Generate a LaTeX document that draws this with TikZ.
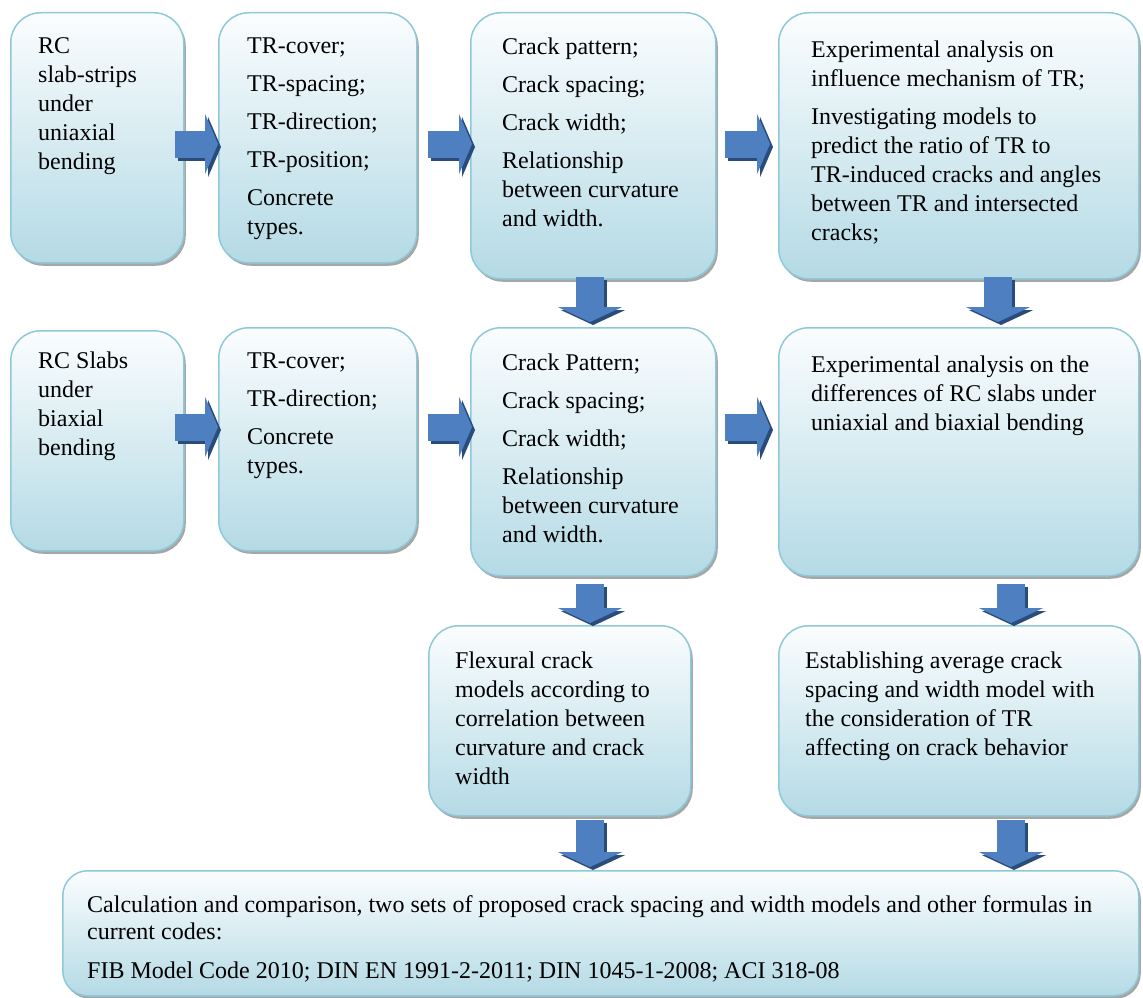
\documentclass[tikz,border=0pt]{standalone}
\usepackage{fontspec}
\setmainfont{Liberation Serif}
\usetikzlibrary{arrows.meta,shadows}

\definecolor{boxline}{HTML}{8FC9D9}
\definecolor{boxtop}{HTML}{FBFDFE}
\definecolor{boxbot}{HTML}{B4DAE5}
\definecolor{arrowblue}{HTML}{4E7FC0}
\definecolor{arrowdark}{HTML}{2A4C7A}

\tikzset{
  box/.style={rectangle, anchor=north west, inner sep=0pt,
    rounded corners=30pt, draw=boxline, line width=1.5pt,
    top color=boxtop, bottom color=boxbot,
    drop shadow={shadow xshift=2pt, shadow yshift=-3pt, fill=black, opacity=0.35}},
  txt/.style={anchor=base west, align=left, inner sep=0pt,
    font=\fontsize{24}{29}\selectfont},
  flowh/.style={line width=27pt, draw=arrowblue,
    -{Triangle[length=13pt,width=60pt]}},
  flowv/.style={line width=28pt, draw=arrowblue,
    -{Triangle[length=15pt,width=64pt]}},
  flowshade/.style={draw=arrowdark, transform canvas={shift={(3pt,-3pt)}}}
}

\begin{document}
\begin{tikzpicture}[x=1pt,y=-1pt]
  \useasboundingbox (0,0) rectangle (1143,998);

  % first row
  \node[box, minimum width=173pt, minimum height=250pt] (a1) at (10,12) {};
  \node[box, minimum width=198pt, minimum height=250pt] (b1) at (218,12) {};
  \node[box, minimum width=245pt, minimum height=266pt] (c1) at (470,12) {};
  \node[box, minimum width=360pt, minimum height=266pt] (d1) at (778,12) {};

  % second row
  \node[box, minimum width=173pt, minimum height=220pt] (a2) at (10,330) {};
  \node[box, minimum width=198pt, minimum height=223pt] (b2) at (218,327) {};
  \node[box, minimum width=245pt, minimum height=248pt] (c2) at (470,327) {};
  \node[box, minimum width=360pt, minimum height=248pt] (d2) at (778,327) {};

  % third row and result
  \node[box, minimum width=262pt, minimum height=190pt] (c3) at (428,625) {};
  \node[box, minimum width=360pt, minimum height=190pt] (d3) at (778,625) {};
  \node[box, minimum width=1076pt, minimum height=125pt, rounded corners=25pt] (e) at (62,870) {};

  % texts, placed at the baseline of their last line
  \node[txt] (a1t) at (38,169) {RC\\slab-strips\\under\\uniaxial\\bending};
  \node[txt] (b1t) at (247,234) {TR-cover;\\[9pt]TR-spacing;\\[9pt]TR-direction;\\[9pt]TR-position;\\[9pt]Concrete\\types.};
  \node[txt] (c1t) at (502,226) {Crack pattern;\\[9pt]Crack spacing;\\[9pt]Crack width;\\[9pt]Relationship\\between curvature\\and width.};
  \node[txt] (d1t) at (811,240) {Experimental analysis on\\influence mechanism of TR;\\[9pt]Investigating models to\\predict the ratio of TR to\\TR-induced cracks and angles\\between TR and intersected\\cracks;};

  \node[txt] (a2t) at (38,455) {RC Slabs\\under\\biaxial\\bending};
  \node[txt] (b2t) at (247,473) {TR-cover;\\[9pt]TR-direction;\\[9pt]Concrete\\types.};
  \node[txt] (c2t) at (502,542) {Crack Pattern;\\[9pt]Crack spacing;\\[9pt]Crack width;\\[9pt]Relationship\\between curvature\\and width.};
  \node[txt] (d2t) at (811,430) {Experimental analysis on the\\differences of RC slabs under\\uniaxial and biaxial bending};

  \node[txt] (c3t) at (455,784) {Flexural crack\\models according to\\correlation between\\curvature and crack\\width};
  \node[txt] (d3t) at (805,755) {Establishing average crack\\spacing and width model with\\the consideration of TR\\affecting on crack behavior};
  \node[txt, font=\fontsize{24}{27}\selectfont] (et) at (87,978) {Calculation and comparison, two sets of proposed crack spacing and width models and other formulas in\\current codes:\\[12pt]FIB Model Code 2010; DIN EN 1991-2-2011; DIN 1045-1-2008; ACI 318-08};

  % arrows
  \coordinate (r1) at (0,144);
  \coordinate (r2) at (0,427);
  \coordinate (xc) at (590,0);
  \coordinate (xd) at (998,0);
  \coordinate (xe) at (1011,0);

  \foreach \s/\t/\r/\p/\q in {a1/b1/r1/-10/0, b1/c1/r1/10/-2, c1/d1/r1/8/8,
                              a2/b2/r2/-10/0, b2/c2/r2/10/-2, c2/d2/r2/8/8}
  {
    \draw[flowh, flowshade, shorten <=\p pt, shorten >=\q pt] (\s.east |- \r) -- (\t.west |- \r);
    \draw[flowh, shorten <=\p pt, shorten >=\q pt] (\s.east |- \r) -- (\t.west |- \r);
  }

  \foreach \s/\t/\x/\p/\q in {c1/c2/xc/-3/5, d1/d2/xd/-3/5, c2/c3/xc/7/2,
                              d2/d3/xe/7/2, c3/e/xc/3/3, d3/e/xe/3/3}
  {
    \draw[flowv, flowshade, shorten <=\p pt, shorten >=\q pt] (\s.south -| \x) -- (\t.north -| \x);
    \draw[flowv, shorten <=\p pt, shorten >=\q pt] (\s.south -| \x) -- (\t.north -| \x);
  }
\end{tikzpicture}
\end{document}
